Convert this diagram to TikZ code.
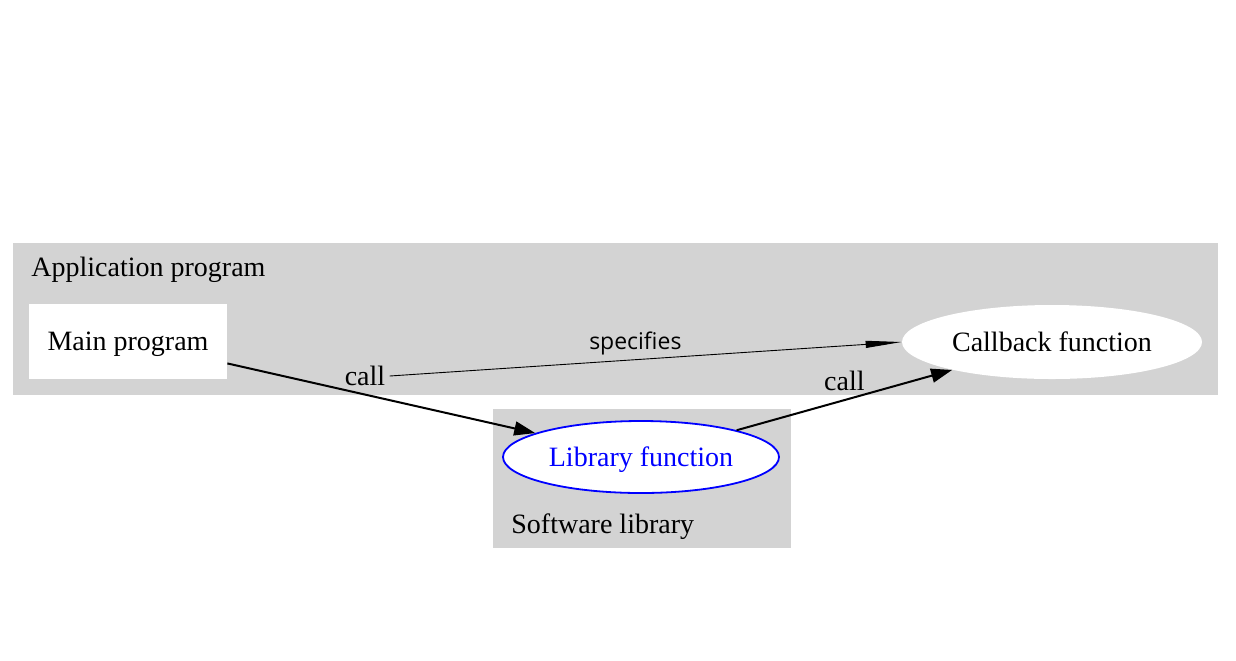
\documentclass[tikz,border=0pt]{standalone}
\usepackage{fontspec}
\setmainfont{Liberation Serif}
\newfontfamily\specfont{Open Sans}
\usepackage{xcolor}
\usetikzlibrary{arrows.meta, shapes.geometric, positioning}

\definecolor{clustergray}{HTML}{D3D3D3}

\begin{document}
\begin{tikzpicture}[x=0.5pt, y=-0.5pt,
    font=\fontsize{14}{16}\selectfont,
    cluster/.style={fill=clustergray},
    progbox/.style={rectangle, fill=white, inner sep=0pt, text depth=0pt, minimum width=99pt, minimum height=37.5pt},
    funcnode/.style={ellipse, fill=white, inner sep=0pt, text depth=0pt, minimum width=150pt, minimum height=37pt},
    libnode/.style={ellipse, fill=white, draw=blue, text=blue, line width=0.9pt, inner sep=0pt, text depth=0pt, minimum width=138pt, minimum height=36pt},
    callarrow/.style={line width=1pt, -{Triangle[length=10.5pt, width=7pt]}},
    specarrow/.style={line width=0.45pt, -{Triangle[length=18pt, width=3.5pt]}}]
    % Nền trắng và khung hình
    \fill[white] (0,0) rectangle (1236,660);
    \useasboundingbox (0,0) rectangle (1236,660);

    % Hai cụm nền xám
    \fill[cluster] (13,243) rectangle (1218,395);
    \fill[cluster] (493,409) rectangle (791,548);
    \node[anchor=base west, inner sep=0pt] (applabel) at (31,276) {Application program};
    \node[anchor=base west, inner sep=0pt] (liblabel) at (511,533) {Software library};

    % Các nút
    \node[progbox] (main) at (128,341) {Main program};
    \node[funcnode] (callback) at (1052,342) {Callback function};
    \node[libnode] (lib) at (641,457) {Library function};

    % Nhãn "call" đứng riêng, cạnh "specifies" xuất phát từ nó
    \node[inner sep=2pt] (callA) at (365,376) {call};

    % Các cạnh
    \draw[callarrow] (main) -- (lib);
    \draw[callarrow] (lib) -- (callback) node[midway, above=1pt] {call};
    \draw[specarrow] (callA.east) -- (callback.west)
        node[pos=0.48, above=-1pt, font=\specfont\fontsize{11.5}{13}\selectfont] {specifies};
\end{tikzpicture}
\end{document}
